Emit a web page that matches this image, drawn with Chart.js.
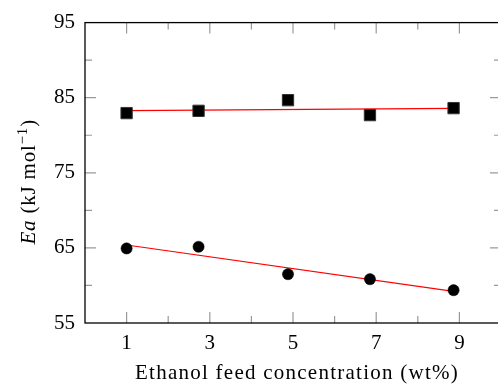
<!DOCTYPE html>
<html>
<head>
<meta charset="utf-8">
<script src="https://cdn.jsdelivr.net/npm/chart.js@4.4.1/dist/chart.umd.min.js"></script>
<style>
  html, body { margin: 0; padding: 0; background: #fff; overflow: hidden; }
  #wrap { width: 510px; height: 385px; }
</style>
</head>
<body>
<div id="wrap"><canvas id="chart"></canvas></div>
<script>
// ethanol feed concentration (wt%) for each run
const feedConc = [1, 2.73, 4.88, 6.85, 8.86];
// activation energies, kJ/mol
const eaSquares = [82.95, 83.25, 84.67, 82.68, 83.61];
const eaCircles = [64.93, 65.15, 61.5, 60.83, 59.37];
// linear fits, evaluated at the first and last concentration
const fitX = [1, 8.86];
const fitSquares = [83.29, 83.58];
const fitCircles = [65.39, 59.22];

const xLabels = [1, 3, 5, 7, 9];
const yLabels = [55, 65, 75, 85, 95];

const FONT = "'Liberation Serif', 'Times New Roman', serif";
const ctx = document.getElementById("chart").getContext("2d");

function points(xs, ys) {
    return xs.map((x, i) => ({ x: x, y: ys[i] }));
}

// inward tick marks on all four sides plus the top/right frame
const frameTicks = {
    id: "frameTicks",
    afterDatasetsDraw(chart) {
        const { ctx, chartArea: a, scales: { x, y } } = chart;
        ctx.save();
        ctx.strokeStyle = "#9a9a9a";
        ctx.lineWidth = 1.2;
        ctx.beginPath();
        for (let v = 1; v <= 9; v++) {
            const len = xLabels.includes(v) ? 11 : 7;
            const px = x.getPixelForValue(v);
            ctx.moveTo(px, a.bottom); ctx.lineTo(px, a.bottom - len);
            ctx.moveTo(px, a.top); ctx.lineTo(px, a.top + len);
        }
        for (let v = 60; v <= 90; v += 5) {
            const len = yLabels.includes(v) ? 11 : 7;
            const py = y.getPixelForValue(v);
            ctx.moveTo(a.left, py); ctx.lineTo(a.left + len, py);
            ctx.moveTo(a.right, py); ctx.lineTo(a.right - len, py);
        }
        ctx.stroke();
        ctx.strokeStyle = "#000";
        ctx.lineWidth = 1.3;
        ctx.strokeRect(a.left, a.top, a.right - a.left, a.bottom - a.top);
        ctx.restore();
    }
};

// axis titles: italic Ea with a superscript on y, spaced-out serif on x
const axisTitles = {
    id: "axisTitles",
    afterDraw(chart) {
        const { ctx, chartArea: a } = chart;
        ctx.save();
        ctx.fillStyle = "#000";
        ctx.textBaseline = "alphabetic";

        ctx.font = "21px " + FONT;
        ctx.letterSpacing = "1.25px";
        ctx.textAlign = "center";
        ctx.fillText("Ethanol feed concentration (wt%)", (a.left + a.right) / 2 + 4, 379);

        const parts = [
            { t: "Ea", f: "italic 21px " + FONT, dy: 0 },
            { t: " (kJ mol", f: "21px " + FONT, dy: 0 },
            { t: "\u22121", f: "15px " + FONT, dy: -8 },
            { t: ")", f: "21px " + FONT, dy: 0 }
        ];
        ctx.textAlign = "left";
        ctx.letterSpacing = "0.8px";
        let total = 0;
        parts.forEach(p => { ctx.font = p.f; p.w = ctx.measureText(p.t).width; total += p.w; });
        ctx.translate(35, (a.top + a.bottom) / 2 + 9);
        ctx.rotate(-Math.PI / 2);
        let cx = -total / 2;
        parts.forEach(p => {
            ctx.font = p.f;
            ctx.fillText(p.t, cx, p.dy);
            cx += p.w;
        });
        ctx.restore();
    }
};

new Chart(ctx, {
    type: "scatter",
    data: {
        datasets: [
            {
                label: "fit squares",
                type: "line",
                data: points(fitX, fitSquares),
                borderColor: "#ff0000",
                borderWidth: 1.2,
                pointRadius: 0,
                order: 3
            },
            {
                label: "fit circles",
                type: "line",
                data: points(fitX, fitCircles),
                borderColor: "#ff0000",
                borderWidth: 1.2,
                pointRadius: 0,
                order: 3
            },
            {
                label: "squares",
                data: points(feedConc, eaSquares),
                pointStyle: "rect",
                pointRadius: 8,
                backgroundColor: "#000",
                borderColor: "#333",
                borderWidth: 1,
                order: 1
            },
            {
                label: "circles",
                data: points(feedConc, eaCircles),
                pointStyle: "circle",
                pointRadius: 5.6,
                backgroundColor: "#000",
                borderColor: "#000",
                borderWidth: 0.5,
                order: 1
            }
        ]
    },
    options: {
        responsive: true,
        maintainAspectRatio: false,
        animation: false,
        layout: { padding: { top: 21, right: 4, bottom: 0, left: 0 } },
        plugins: {
            legend: { display: false },
            tooltip: { enabled: false }
        },
        scales: {
            x: {
                type: "linear",
                min: 0,
                max: 10,
                afterFit: s => { s.height = 62; },
                grid: { display: false, drawTicks: false },
                border: { display: false },
                ticks: {
                    stepSize: 1,
                    padding: 8,
                    color: "#000",
                    font: { family: FONT, size: 21 },
                    maxRotation: 0,
                    autoSkip: false,
                    callback: v => xLabels.includes(v) ? String(v) : ""
                }
            },
            y: {
                min: 55,
                max: 95,
                afterFit: s => { s.width = 85; },
                grid: { display: false, drawTicks: false },
                border: { display: false },
                ticks: {
                    stepSize: 5,
                    padding: 10,
                    color: "#000",
                    font: { family: FONT, size: 21 },
                    autoSkip: false,
                    callback: v => yLabels.includes(v) ? String(v) : ""
                }
            }
        }
    },
    plugins: [frameTicks, axisTitles]
});
</script>
</body>
</html>
